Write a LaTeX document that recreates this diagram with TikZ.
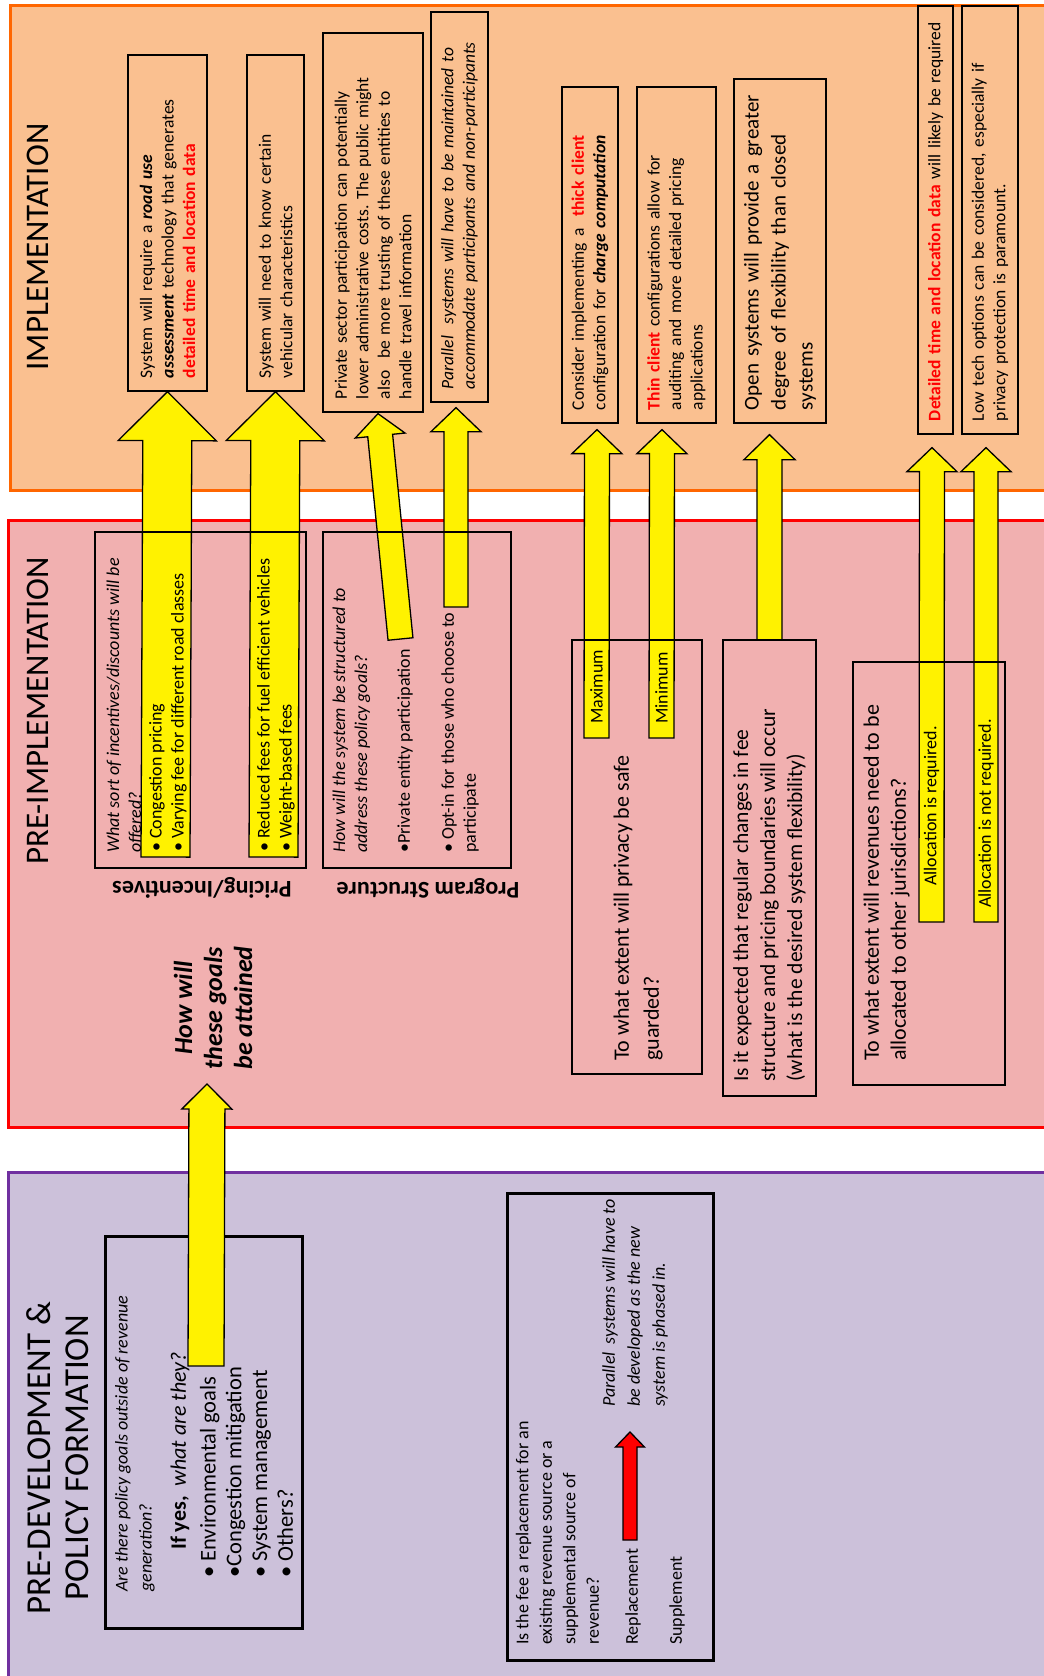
\documentclass[tikz,border=0pt]{standalone}
\usepackage{fontspec}
\setmainfont{Carlito}
\usetikzlibrary{calc}
\frenchspacing

\definecolor{implfill}{RGB}{250,192,144}
\definecolor{implline}{RGB}{255,102,0}
\definecolor{prefill}{RGB}{241,176,176}
\definecolor{polfill}{RGB}{204,193,218}
\definecolor{polline}{RGB}{112,48,160}

\newcommand{\setfs}[2]{\fontsize{#1}{#2}\selectfont}

\tikzset{
  panel/.style={line width=3pt},
  headtxt/.style={rotate=90, inner sep=0pt, align=center, font=\setfs{33}{38}},
  implbox/.style={draw, line width=1.3pt, rotate=90, align=left, inner xsep=13pt, inner ysep=0pt, font=\setfs{17.5}{21.5}},
  qbox/.style={draw, line width=1.3pt, rotate=90, inner sep=0pt},
  thickbox/.style={qbox, line width=3pt},
  note/.style={rotate=90, anchor=west, align=left, inner sep=0pt, font=\setfs{18}{22}},
  notei/.style={note, font={\itshape\setfs{18}{22}}},
  bignote/.style={note, font=\setfs{21.5}{27}},
  tag/.style={rotate=180, inner sep=0pt, font={\bfseries\setfs{24}{28}}},
  % yellow block arrow: shaft half width, head half width, head length
  blockarrow/.style n args={3}{fill=yellow, draw=black, line width=1.3pt,
    to path={let \p3=($(\tikztotarget)!#3!(\tikztostart)$) in
      ($(\tikztostart)!#1!90:(\tikztotarget)$) -- ($(\p3)!#1!90:(\tikztotarget)$)
      -- ($(\p3)!#2!90:(\tikztotarget)$) -- (\tikztotarget)
      -- ($(\p3)!#2!-90:(\tikztotarget)$) -- ($(\p3)!#1!-90:(\tikztotarget)$)
      -- ($(\tikztostart)!#1!-90:(\tikztotarget)$) -- cycle}}
}

\begin{document}
\begin{tikzpicture}[x=1pt, y=-1pt]
  \useasboundingbox (0,0) rectangle (1044,1676);
  \clip (0,0) rectangle (1044,1676);

  % the three phases
  \draw[panel, draw=implline, fill=implfill] (10,5) rectangle (1060,490);
  \draw[panel, draw=red, fill=prefill] (8,520) rectangle (1060,1127);
  \draw[panel, draw=polline, fill=polfill] (8,1172) rectangle (1060,1700);

  \node[headtxt] (implhead) at (38,247) {IMPLEMENTATION};
  \node[headtxt] (prehead) at (38,711) {PRE-IMPLEMENTATION};
  \node[headtxt, font=\setfs{35}{38}] (polhead) at (57.5,1458) {PRE-DEVELOPMENT \&\\POLICY FORMATION};

  % implementation
  \node[implbox, text width=310pt, minimum width=336pt, minimum height=79pt] (imp1) at (167.5,223)
    {System will require a \textbf{\textit{road use}}\\\textbf{\textit{assessment}} technology that generates\\\textcolor{red}{\textbf{detailed time and location data}}};
  \node[implbox, text width=310pt, minimum width=336pt, minimum height=57pt] (imp2) at (275.5,223)
    {System will need to know certain\\vehicular characteristics};
  \node[implbox, text width=353pt, minimum width=379pt, minimum height=100pt] (imp3) at (373,222.5)
    {Private sector participation can potentially\\lower administrative costs. The public might\\also\ \ be more trusting of these entities to\\handle travel information};
  \node[implbox, font={\itshape\setfs{17.5}{21.5}}, text width=364pt, minimum width=390pt, minimum height=57pt] (imp4) at (459.5,207)
    {Parallel\ \ systems will have to be maintained to\\accommodate participants and non-participants};
  \node[implbox, text width=310pt, minimum width=336pt, minimum height=56pt] (imp5) at (590,255)
    {Consider implementing a\ \ \textcolor{red}{\textbf{thick client}}\\configuration for \textbf{\textit{charge computation}}};
  \node[implbox, text width=310pt, minimum width=336pt, minimum height=79pt] (imp6) at (676.5,255)
    {\textcolor{red}{\textbf{Thin client}} configurations allow for\\auditing and more detailed pricing\\applications};
  \node[implbox, font=\setfs{21}{27}, text width=318pt, minimum width=344pt, minimum height=92pt] (imp7) at (780,251)
    {Open systems will provide a greater\\degree of flexibility than closed\\systems};
  \node[implbox, text width=402pt, minimum width=428pt, minimum height=35pt] (imp8) at (935.5,220)
    {\textcolor{red}{\textbf{Detailed time and location data}} will likely be required};
  \node[implbox, text width=402pt, minimum width=428pt, minimum height=56pt] (imp9) at (990,220)
    {Low tech options can be considered, especially if\\privacy protection is paramount.};

  % arrows up into implementation
  \coordinate (s1) at (165.5,857);
  \coordinate (s2) at (273.5,857);
  \coordinate (s3) at (400.5,639);
  \coordinate (t3) at ($(imp3.west)+(5,1)$);
  \coordinate (s4) at (456,607);
  \coordinate (t4) at ($(imp4.west)+(-3.5,5)$);
  \coordinate (s5) at (596.5,738);
  \coordinate (t5) at ($(imp5.west)+(7,6)$);
  \coordinate (s6) at (661.5,738);
  \coordinate (t6) at ($(imp6.west)+(-14.5,6)$);
  \coordinate (s7) at (769.5,640);
  \coordinate (t7) at ($(imp7.west)+(-10.5,11)$);
  \coordinate (s8) at (931.5,922);
  \coordinate (t8) at ($(imp8.west)+(-3.5,13)$);
  \coordinate (s9) at (986,922);
  \coordinate (t9) at ($(imp9.west)+(-4,13)$);

  \draw[blockarrow={24.5pt}{49pt}{49pt}] (s1) to (imp1.west);
  \draw[blockarrow={24.5pt}{49pt}{49pt}] (s2) to (imp2.west);
  \draw[blockarrow={12.5pt}{25pt}{22pt}] (s3) to (t3);
  \draw[blockarrow={12pt}{25pt}{24pt}] (s4) to (t4);
  \draw[blockarrow={12.5pt}{25pt}{24pt}] (s5) to (t5);
  \draw[blockarrow={12.5pt}{25pt}{24pt}] (s6) to (t6);
  \draw[blockarrow={12.5pt}{25.5pt}{25pt}] (s7) to (t7);
  \draw[blockarrow={12.5pt}{25pt}{24pt}] (s8) to (t8);
  \draw[blockarrow={12pt}{25pt}{24pt}] (s9) to (t9);

  % pre-implementation
  \node[qbox, minimum width=336pt, minimum height=211pt] (pricing) at (200.5,700) {};
  \node[qbox, minimum width=336pt, minimum height=188pt] (program) at (417,700) {};
  \node[qbox, minimum width=434pt, minimum height=130pt] (privacy) at (637,857) {};
  \node[qbox, minimum width=456pt, minimum height=93pt] (flex) at (769.5,868) {};
  \node[qbox, minimum width=423pt, minimum height=152pt] (alloc) at (929,873.5) {};

  \node[notei] (pricingq) at (124,853) {What sort of incentives/discounts will be\\offered?};
  \node[note] (pricinga) at (168,852) {\textbullet\ Congestion pricing\\\textbullet\ Varying fee for different road classes};
  \node[note] (pricingb) at (276,852) {\textbullet\ Reduced fees for fuel efficient vehicles\\\textbullet\ Weight-based fees};
  \node[tag] (pricingtag) at (202,888) {Pricing/Incentives};
  \node[notei] (programq) at (351.5,853) {How will the system be structured to\\address these policy goals?};
  \node[note] (programa) at (405,853) {\textbullet Private entity participation};
  \node[note] (programb) at (460,853) {\textbullet\ Opt-in for those who choose to\\participate};
  \node[tag] (programtag) at (428,888) {Program Structure};
  \node[rotate=90, inner sep=0pt, align=center, font={\bfseries\itshape\setfs{26}{30}}] (attain) at (213,1008) {How will\\these goals\\be attained};

  \node[bignote, font=\setfs{22}{30}] (privacyq) at (638,1061) {To what extent will privacy be safe\\guarded?};
  \node[bignote] (flexq) at (769.5,1082) {Is it expected that regular changes in fee\\structure and pricing boundaries will occur\\(what is the desired system flexibility)};
  \node[bignote, font=\setfs{22}{27}] (allocq) at (886.5,1061) {To what extent will revenues need to be\\allocated to other jurisdictions?};
  \node[note] (maxlbl) at (596.5,724) {Maximum};
  \node[note] (minlbl) at (661.5,724) {Minimum};
  \node[note] (alloclbl) at (931.5,886) {Allocation is required.};
  \node[note] (noalloclbl) at (986,908) {Allocation is not required.};

  % pre-development and policy formation
  \node[thickbox, minimum width=392pt, minimum height=197pt] (goals) at (203.5,1432) {};
  \node[notei, font={\itshape\setfs{18}{24}}] (goalsq) at (135,1592) {Are there policy goals outside of revenue\\generation?};
  \node[note, font=\setfs{22}{26}] (goalsyes) at (180,1550) {\textbf{If yes,}\ \ \textit{what are they?}};
  \node[note, font=\setfs{22.5}{25.7}] (goalslist) at (246.5,1578) {\textbullet\ Environmental goals\\\textbullet Congestion mitigation\\\textbullet\ System management\\\textbullet\ Others?};
  \coordinate (s0) at (206,1366);
  \coordinate (t0) at ($(attain.center)+(-6,76)$);
  \draw[blockarrow={18pt}{25pt}{25pt}] (s0) to (t0);

  \node[thickbox, minimum width=467pt, minimum height=206pt] (fee) at (610,1426.5) {};
  \node[note, font=\setfs{18}{23.5}] (feeq) at (557.5,1645) {Is the fee a replacement for an\\existing revenue source or a\\supplemental source of\\revenue?};
  \node[note] (replace) at (633,1645) {Replacement};
  \node[note] (supplement) at (677,1645) {Supplement};
  \node[notei, font={\itshape\setfs{18}{25}}] (parallel) at (635,1407) {Parallel\ \ systems will have to\\be developed as the new\\system is phased in.};
  \coordinate (rs) at ($(replace.west)+(-3,-105)$);
  \coordinate (rt) at ($(parallel.west)+(-5,25)$);
  \draw[blockarrow={7pt}{14.5pt}{15pt}, fill=red] (rs) to (rt);
\end{tikzpicture}
\end{document}
